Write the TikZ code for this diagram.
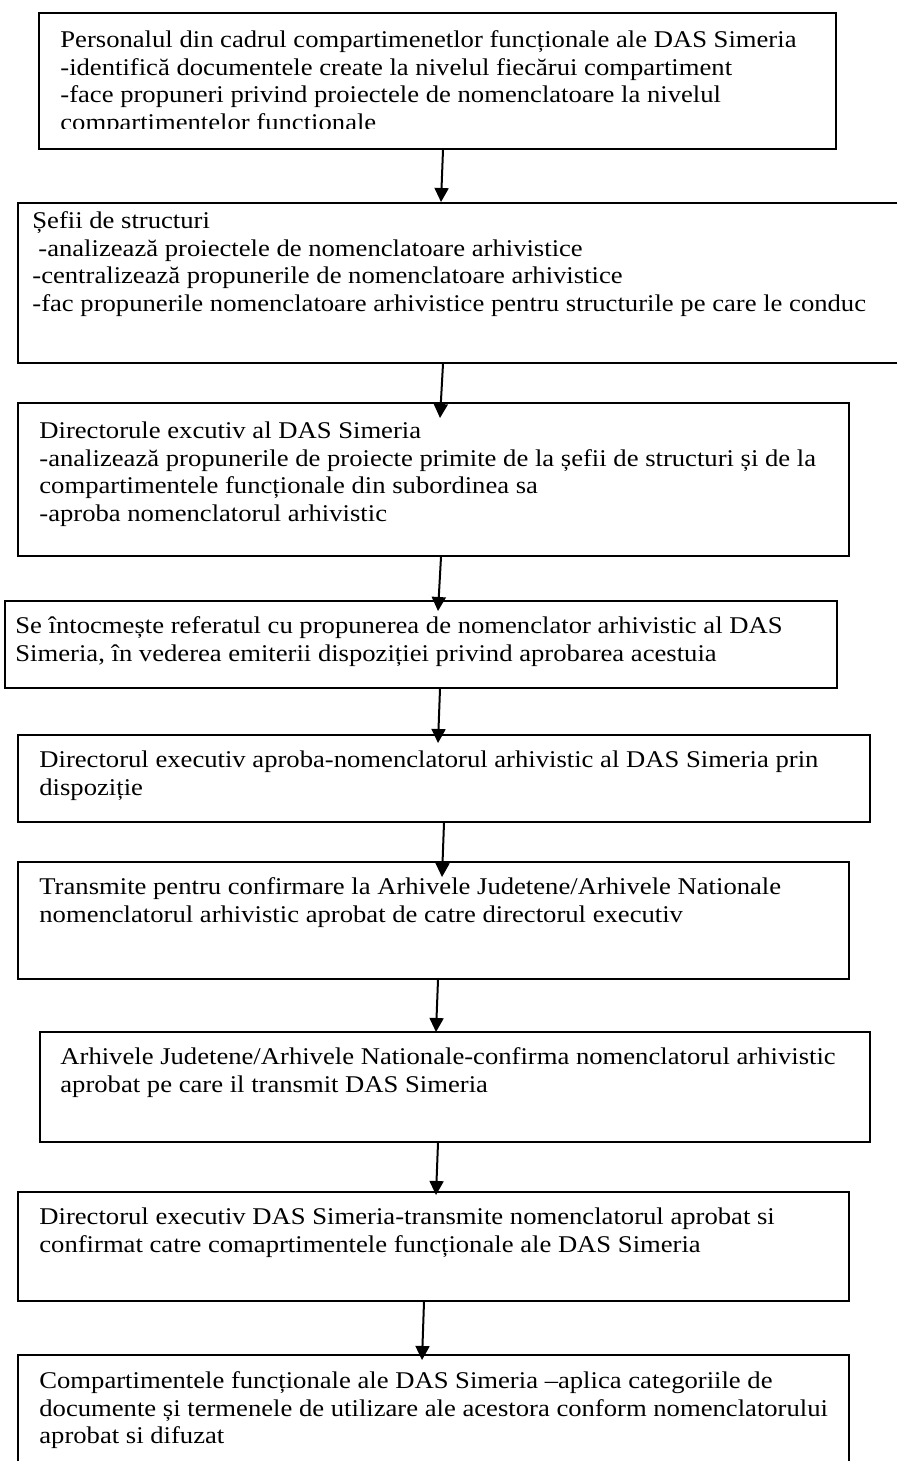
\documentclass[tikz,border=0pt]{standalone}
\usepackage{fontspec}
\setmainfont{Liberation Serif}[FakeStretch=1.11]
\usetikzlibrary{arrows.meta}

\tikzset{
    stepbox/.style={rectangle,draw,line width=1pt,anchor=north west,inner sep=0pt},
    steptext/.style={anchor=north west,align=left,inner sep=0pt,font=\fontsize{12}{13.85}\selectfont},
    flow/.style={-{Triangle[width=7pt,length=7pt]},line width=1pt}
}

\begin{document}
\begin{tikzpicture}[x=0.5pt,y=-0.5pt]
    \useasboundingbox (0,0) rectangle (897,1461) ;
    \clip (0,0) rectangle (897,1461) ;

    \node[stepbox,minimum width=398.5pt,minimum height=68pt] (b1) at (38,12) {} ;
    \node[stepbox,minimum width=445pt,minimum height=80pt] (b2) at (17,202) {} ;
    \node[stepbox,minimum width=415.5pt,minimum height=76.5pt] (b3) at (17,402) {} ;
    \node[stepbox,minimum width=416pt,minimum height=43.5pt] (b4) at (4,600) {} ;
    \node[stepbox,minimum width=426pt,minimum height=43.5pt] (b5) at (17,734) {} ;
    \node[stepbox,minimum width=415.5pt,minimum height=58.5pt] (b6) at (17,861) {} ;
    \node[stepbox,minimum width=415pt,minimum height=55pt] (b7) at (39,1031) {} ;
    \node[stepbox,minimum width=415.5pt,minimum height=54.5pt] (b8) at (17,1191) {} ;
    \node[stepbox,minimum width=415.5pt,minimum height=65pt] (b9) at (17,1354) {} ;

    % first box cuts its last line
    \begin{scope}
        \clip (38,12) rectangle (835,129) ;
        \node[steptext] (t1) at ([xshift=11pt,yshift=-7.8pt]b1.north west) {\strut Personalul din cadrul compartimenetlor funcționale ale DAS Simeria\\-identifică documentele create la nivelul fiecărui compartiment\\-face propuneri privind proiectele de nomenclatoare la nivelul\\compartimentelor functionale} ;
    \end{scope}
    \node[steptext] (t2) at ([xshift=7.5pt,yshift=-3.3pt]b2.north west) {\strut Șefii de structuri\\\hspace*{3pt}-analizează proiectele de nomenclatoare arhivistice\\-centralizează propunerile de nomenclatoare arhivistice\\-fac propunerile nomenclatoare arhivistice pentru structurile pe care le conduc} ;
    \node[steptext] (t3) at ([xshift=11pt,yshift=-8.3pt]b3.north west) {\strut Directorule excutiv al DAS Simeria\\-analizează propunerile de proiecte primite de la șefii de structuri și de la\\compartimentele funcționale din subordinea sa\\-aproba nomenclatorul arhivistic} ;
    \node[steptext] (t4) at ([xshift=5.5pt,yshift=-7pt]b4.north west) {\strut Se întocmește referatul cu propunerea de nomenclator arhivistic al DAS\\Simeria, în vederea emiterii dispoziției privind aprobarea acestuia} ;
    \node[steptext] (t5) at ([xshift=11pt,yshift=-7pt]b5.north west) {\strut Directorul executiv aproba-nomenclatorul arhivistic al DAS Simeria prin\\dispoziție} ;
    \node[steptext] (t6) at ([xshift=11pt,yshift=-7pt]b6.north west) {\strut Transmite pentru confirmare la Arhivele Judetene/Arhivele Nationale\\nomenclatorul arhivistic aprobat de catre directorul executiv} ;
    \node[steptext] (t7) at ([xshift=10.5pt,yshift=-7pt]b7.north west) {\strut Arhivele Judetene/Arhivele Nationale-confirma nomenclatorul arhivistic\\aprobat pe care il transmit DAS Simeria} ;
    \node[steptext] (t8) at ([xshift=11pt,yshift=-7pt]b8.north west) {\strut Directorul executiv DAS Simeria-transmite nomenclatorul aprobat si\\confirmat catre comaprtimentele funcționale ale DAS Simeria} ;
    \node[steptext] (t9) at ([xshift=11pt,yshift=-7.3pt]b9.north west) {\strut Compartimentele funcționale ale DAS Simeria –aplica categoriile de\\documente și termenele de utilizare ale acestora conform nomenclatorului\\aprobat si difuzat} ;

    \draw[flow] ([xshift=2.75pt]b1.south) -- ([xshift=-11pt]b2.north) ;
    \draw[flow] ([xshift=-10pt]b2.south) -- ([xshift=3.25pt,yshift=-8pt]b3.north) ;
    \draw[flow] ([xshift=3.75pt]b3.south) -- ([xshift=8.5pt,yshift=-5.5pt]b4.north) ;
    \draw[flow] ([xshift=9.5pt]b4.south) -- ([xshift=-3pt,yshift=-4.5pt]b5.north) ;
    \draw[flow] (b5.south) -- ([xshift=4.25pt,yshift=-8pt]b6.north) ;
    \draw[flow] ([xshift=2.25pt]b6.south) -- ([xshift=-9.5pt,yshift=-0.5pt]b7.north) ;
    \draw[flow] ([xshift=-8.5pt]b7.south) -- ([xshift=1.25pt,yshift=-2pt]b8.north) ;
    \draw[flow] ([xshift=-4.75pt]b8.south) -- ([xshift=-5.75pt,yshift=-3pt]b9.north) ;
\end{tikzpicture}
\end{document}
